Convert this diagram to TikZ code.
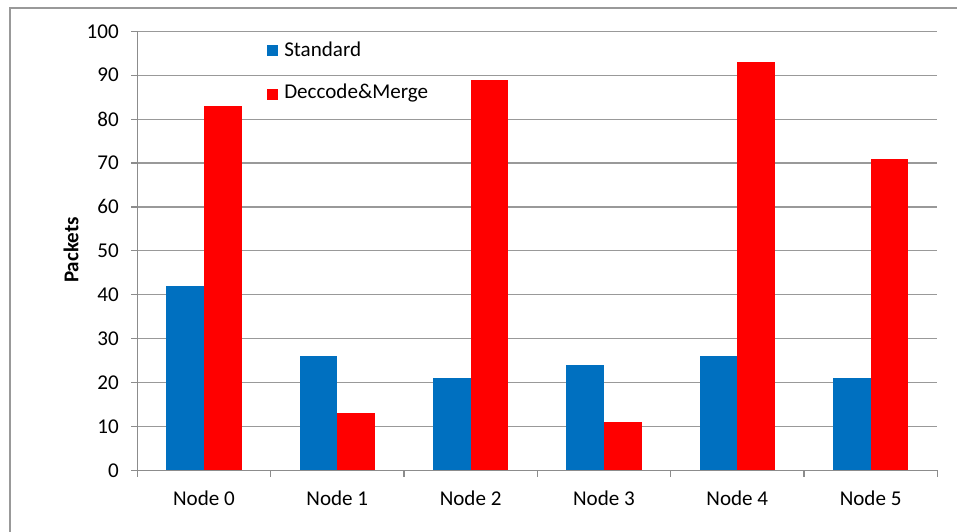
\documentclass[tikz,border=0pt]{standalone}
\usepackage{fontspec}
\setmainfont{Carlito}
\begin{document}
\begin{tikzpicture}[x=0.75pt,y=-0.75pt,
  every node/.style={font=\fontsize{15.8}{19}\selectfont, inner sep=0pt},
  gridline/.style={draw=black!40, line width=0.9pt},
  axisline/.style={draw=black!45, line width=0.9pt},
  bluebar/.style={fill=blueC, draw=none},
  redbar/.style={fill=redC, draw=none},
  ticklab/.style={anchor=east},
  catlab/.style={anchor=center}]
\definecolor{blueC}{HTML}{0070C0}
\definecolor{redC}{HTML}{FF0000}
\useasboundingbox (0,0) rectangle (957,532);
\begin{scope}
\clip (0,0) rectangle (957,532);
\draw[draw=black!40, line width=1pt] (10,8) rectangle (980,560);
\end{scope}
% gridlines and y ticks
\foreach \v in {10,20,...,100}{
  \draw[gridline] (137.3,{470.3-4.39*\v}) -- (937.3,{470.3-4.39*\v});
}
\foreach \v in {0,10,...,100}{
  \draw[axisline] (131.3,{470.3-4.39*\v}) -- (137.3,{470.3-4.39*\v});
  \node[ticklab] (yl\v) at (119,{470.3-4.39*\v}) {\v};
}
% bars
\foreach \i/\s/\d in {0/42/83,1/26/13,2/21/89,3/24/11,4/26/93,5/21/71}{
  \pgfmathsetmacro{\cx}{137.3+133.33*(\i+0.5)}
  \fill[bluebar] ({\cx-37.7},470.3) rectangle (\cx,{470.3-4.39*\s});
  \fill[redbar] (\cx,470.3) rectangle ({\cx+37.7},{470.3-4.39*\d});
  \node[catlab] (cat\i) at (\cx,498) {Node \i};
}
% axes
\draw[axisline] (137.3,470.3) -- (137.3,31);
\draw[axisline] (137.3,470.3) -- (937.3,470.3);
\foreach \i in {0,...,6}{
  \draw[axisline] ({137.3+133.33*\i},470.3) -- ({137.3+133.33*\i},477);
}
% y label
\node[rotate=90, font=\fontsize{15.8}{19}\selectfont\bfseries] (ylab) at (71,250) {Packets};
% legend
\fill[blueC] (267,44.5) rectangle (278,55.5);
\node[anchor=west] (leg1) at (284,49) {Standard};
\fill[redC] (267,88.5) rectangle (278,99.5);
\node[anchor=west] (leg2) at (284,93) {Deccode\&Merge};
\end{tikzpicture}
\end{document}
